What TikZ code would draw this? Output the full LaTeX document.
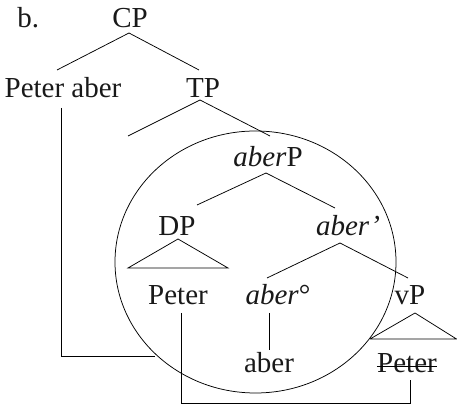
\documentclass[tikz,border=0pt]{standalone}
\usepackage{fontspec}
\setmainfont{Liberation Serif}
\begin{document}
\begin{tikzpicture}[x=1pt,y=1pt,
  lbl/.style={inner sep=0pt, anchor=base, font=\fontsize{29}{31}\selectfont, text=black!90},
  edge/.style={line width=0.75pt, black},
  every path/.style={line width=0.75pt}]
\useasboundingbox (0,0) rectangle (457,406);
% labels
\node[lbl, anchor=base west] (b) at (17,378) {b.};
\node[lbl] (CP) at (130,378) {CP};
\node[lbl] (PA) at (63,308) {Peter aber};
\node[lbl] (TP) at (203,308) {TP};
\node[lbl] (aP) at (268,239) {\textit{aber}P};
\node[lbl] (DP) at (177,170) {DP};
\node[lbl] (ab1) at (348,170) {\textit{aber’}};
\node[lbl] (pet) at (178,101) {Peter};
\node[lbl] (ab0) at (278,101) {\textit{aber}°};
\node[lbl] (vP) at (410,101) {vP};
\node[lbl] (ab) at (269,33) {aber};
\node[lbl] (pet2) at (407,33) {Peter};
\draw[edge] ([yshift=7pt]pet2.base west) -- ([yshift=7pt]pet2.base east);
% coordinates
\coordinate (cpT) at (129,373);
\coordinate (cpL) at (57,336);
\coordinate (cpR) at (199,336);
\coordinate (tpT) at (200,306);
\coordinate (tpL) at (128,270);
\coordinate (tpR) at (270,270);
\coordinate (apT) at (266,233);
\coordinate (apL) at (197,201);
\coordinate (apR) at (335,198);
\coordinate (dpT) at (178,167);
\coordinate (dpL) at (128,138);
\coordinate (dpR) at (228,138);
\coordinate (a1T) at (340,163);
\coordinate (a1L) at (267,128);
\coordinate (a1R) at (408,128);
\coordinate (a0B) at (269,93);
\coordinate (abT) at (269,56);
\coordinate (vpT) at (415,93);
\coordinate (vpL) at (370,67);
\coordinate (vpR) at (456.5,67);
\coordinate (paB) at (61,298);
\coordinate (paE) at (155,50);
\coordinate (ptB) at (181,93);
\coordinate (pt2B) at (410,26);
% tree
\draw[edge] (cpL) -- (cpT) -- (cpR);
\draw[edge] (tpL) -- (tpT) -- (tpR);
\draw[edge] (apL) -- (apT) -- (apR);
\draw[edge] (dpL) -- (dpT) -- (dpR) -- cycle;
\draw[edge] (a1L) -- (a1T) -- (a1R);
\draw[edge] (a0B) -- (abT);
\draw[edge] (vpL) -- (vpT) -- (vpR) -- (vpL);
% movement lines
\draw[edge] (paB) |- (paE);
\draw[edge] (ptB) -- (181,3) -| (pt2B);
% circle
\draw[edge] (255.5,144) ellipse [x radius=140.5, y radius=131];
\end{tikzpicture}
\end{document}
